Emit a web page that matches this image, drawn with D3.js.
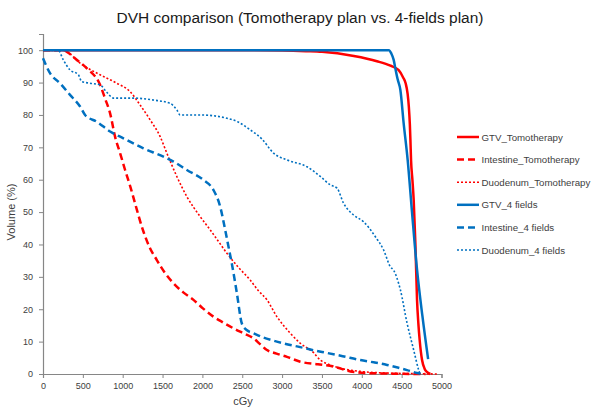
<!DOCTYPE html>
<html><head><meta charset="utf-8">
<script src="https://cdn.jsdelivr.net/npm/d3@7"></script>
<style>body{margin:0;background:#fff;} text{font-family:"Liberation Sans",Arial,sans-serif;}</style>
</head><body><svg id="c" width="600" height="416"></svg>
<script>
const title = "DVH comparison (Tomotherapy plan vs. 4-fields plan)";
const xLabel = "cGy";
const yLabel = "Volume (%)";
const xTicks = [0,500,1000,1500,2000,2500,3000,3500,4000,4500,5000];
const yTicks = [0,10,20,30,40,50,60,70,80,90,100];

const gtvTomo = [[0,100],[2500,100],[3000,99.9],[3300,99.7],[3500,99.5],[3900,98.2],[4190,96.6],[4360,95.2],[4460,93.9],[4520,91.5],[4550,89.8],[4575,86.5],[4590,82.6],[4603,77],[4610,72.3],[4618,66],[4635,60],[4651,53.8],[4672,40.5],[4693,22.9],[4710,15.5],[4726,10.5],[4756,4.3],[4790,1.5],[4820,0.6],[4860,0]];
const intTomo = [[0,100],[250,100],[300,99.5],[400,97.5],[550,94.4],[716,89.3],[780,85],[842,80.5],[904,73.3],[970,68],[1030,63],[1100,57.5],[1155,52.7],[1260,44],[1340,39],[1428,35.2],[1530,31.2],[1637,28],[1760,25.2],[1888,22.9],[2010,20.2],[2139,17.7],[2260,15.9],[2390,14.1],[2520,12.5],[2641,11],[2720,9.3],[2810,7.4],[2930,6.3],[3061,5.3],[3228,3.8],[3450,3],[3646,2.3],[3856,0.8],[4066,0.3],[4400,0.1],[4800,0]];
const duoTomo = [[0,100],[250,100],[300,99.5],[465,96],[716,92.4],[926,89.8],[1093,87.2],[1218,83.1],[1344,78.5],[1470,73.3],[1554,68.2],[1679,61],[1805,54.8],[1972,48.6],[2098,44.5],[2200,41],[2307,37.3],[2450,33],[2600,29],[2700,25.8],[2810,22.9],[2935,17.7],[3018,15],[3102,12.6],[3228,9.5],[3395,6.6],[3479,4.3],[3563,3.2],[3730,1.8],[3982,0.8],[4300,0.3],[4700,0.1],[4950,0]];
const gtv4 = [[0,100],[4340,100],[4370,99],[4400,97],[4421,94.4],[4450,91],[4484,87.7],[4525,77.5],[4576,66],[4630,50],[4694,32],[4760,18],[4832,4.6]];
const int4 = [[0,97.5],[88,92.9],[213,89.8],[339,86.2],[465,82.6],[528,80],[674,77.9],[842,74.9],[1009,72.8],[1260,69.7],[1511,67.1],[1637,65.6],[1805,63],[2014,59.9],[2139,56.8],[2223,51.7],[2286,44.5],[2330,39],[2370,34],[2433,24.9],[2496,15.5],[2560,13.5],[2641,12.6],[2760,11.3],[2893,10.3],[3060,9.2],[3228,8.3],[3400,7.3],[3563,6.5],[3760,5.5],[3982,4.3],[4150,3.6],[4317,2.8],[4450,2],[4568,1.2],[4693,0.3],[4750,0]];
const duo4 = [[0,100],[192,99.9],[255,97],[339,93.9],[444,92.4],[486,90.3],[590,89.8],[716,89.3],[800,87],[884,85.2],[1134,85.2],[1385,84.6],[1595,83.6],[1680,81.5],[1721,80],[1972,80],[2307,79],[2450,77.8],[2600,75.4],[2750,72.5],[2893,68.2],[3061,66.1],[3312,64],[3479,61],[3605,58.4],[3689,57.4],[3772,52.7],[3897,49.1],[4023,47],[4170,42.4],[4274,38.3],[4358,33.1],[4400,32],[4484,26],[4568,15.7],[4651,7.4],[4714,1.2],[4730,0]];

const series = [
  {name:"GTV_Tomotherapy", data:gtvTomo, color:"#ff0000", dash:null, w:2.5},
  {name:"Intestine_Tomotherapy", data:intTomo, color:"#ff0000", dash:"7,4", w:2.5},
  {name:"Duodenum_Tomotherapy", data:duoTomo, color:"#ff0000", dash:"2,2", w:1.6},
  {name:"GTV_4 fields", data:gtv4, color:"#0070c0", dash:null, w:2.5},
  {name:"Intestine_4 fields", data:int4, color:"#0070c0", dash:"7,4", w:2.5},
  {name:"Duodenum_4 fields", data:duo4, color:"#0070c0", dash:"2,2", w:1.6}
];

const svg = d3.select("#c");
const x = d3.scaleLinear().domain([0,5000]).range([43,441.5]);
const y = d3.scaleLinear().domain([0,105]).range([374,34]);
const axisColor = "#868686", textColor = "#404040";

svg.append("text").attr("x",300).attr("y",23).attr("text-anchor","middle")
  .attr("font-size","15.5px").attr("fill","#1a1a1a").text(title);

const gx = svg.append("g").attr("transform","translate(0,374)")
  .call(d3.axisBottom(x).tickValues(xTicks).tickSize(4).tickPadding(5).tickFormat(d3.format("d")));
const gy = svg.append("g").attr("transform","translate(43,0)")
  .call(d3.axisLeft(y).tickValues(yTicks).tickSize(4).tickPadding(6).tickFormat(d3.format("d")));
[gx,gy].forEach(g=>{
  g.select(".domain").attr("stroke",axisColor).attr("stroke-width",1.2);
  g.selectAll(".tick line").attr("stroke",axisColor);
  g.selectAll(".tick text").attr("fill",textColor).attr("font-size","9px")
   .attr("font-family","'Liberation Sans',Arial,sans-serif");
});

svg.append("text").attr("x",243).attr("y",405).attr("text-anchor","middle")
  .attr("font-size","11px").attr("fill",textColor).text(xLabel);
svg.append("text").attr("transform","translate(15,212) rotate(-90)").attr("text-anchor","middle")
  .attr("font-size","11px").attr("fill",textColor).text(yLabel);

const line = d3.line().x(d=>x(d[0])).y(d=>y(d[1])).curve(d3.curveMonotoneX);
const plot = svg.append("g");
series.forEach(s=>{
  plot.append("path").attr("d",line(s.data)).attr("fill","none")
    .attr("stroke",s.color).attr("stroke-width",s.w)
    .attr("stroke-dasharray",s.dash).attr("stroke-linejoin","round");
});

const leg = svg.append("g");
series.forEach((s,i)=>{
  const ly = 137 + i*22.6;
  leg.append("line").attr("x1",457).attr("x2",479).attr("y1",ly).attr("y2",ly)
    .attr("stroke",s.color).attr("stroke-width",s.w).attr("stroke-dasharray",s.dash);
  leg.append("text").attr("x",481.5).attr("y",ly+3.6).attr("font-size","9.7px")
    .attr("fill",textColor).text(s.name);
});
</script></body></html>
